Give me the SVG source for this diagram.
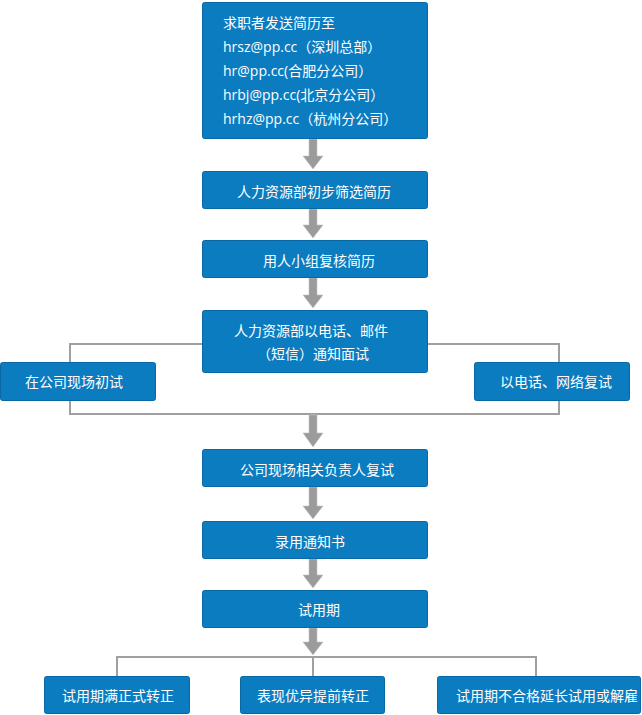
<svg xmlns="http://www.w3.org/2000/svg" width="642" height="715" viewBox="0 0 642 715">
<style>
.box{fill:#0b7cc0;stroke:#0967a3;stroke-width:1}
.t{fill:#ffffff;font-family:"Open Sans","Noto Sans CJK SC",sans-serif;font-size:14px}
.c{text-anchor:middle}
.ln{fill:none;stroke:#a0a0a0;stroke-width:2}
.ar{fill:#9b9b9b;stroke:#c4c4c4;stroke-width:0.6}
</style>
<rect width="642" height="715" fill="#ffffff"/>
<g id="connectors">
<path class="ln" d="M202,344 H70 V362"/>
<path class="ln" d="M427,344 H559 V362"/>
<path class="ln" d="M70,400 V414 H559 V400"/>
<path class="ln" d="M117,676 V657 H536 V676"/>
<path class="ln" d="M313,657 V676"/>
<path class="ar" d="M309,139 H317 V156 H323 L313,169 L303,156 H309 Z"/>
<path class="ar" d="M309,209 H317 V225 H323 L313,238 L303,225 H309 Z"/>
<path class="ar" d="M309,278 H317 V295 H323 L313,308 L303,295 H309 Z"/>
<path class="ar" d="M309,415 H317 V433 H323 L313,447 L303,433 H309 Z"/>
<path class="ar" d="M309,487 H317 V506 H323 L313,519 L303,506 H309 Z"/>
<path class="ar" d="M309,559 H317 V575 H323 L313,588 L303,575 H309 Z"/>
<path class="ar" d="M309,628 H317 V642 H323 L313,655 L303,642 H309 Z"/>
</g>
<g id="n1">
<rect class="box" x="202.5" y="2.5" width="225" height="136" rx="2"/>
<text class="t" x="223" y="28">求职者发送简历至</text>
<text class="t" x="223" y="52">hrsz@pp.cc（深圳总部）</text>
<text class="t" x="223" y="76">hr@pp.cc(合肥分公司）</text>
<text class="t" x="223" y="100">hrbj@pp.cc(北京分公司）</text>
<text class="t" x="223" y="124">hrhz@pp.cc（杭州分公司）</text>
</g>
<g id="n2">
<rect class="box" x="202.5" y="171.5" width="225" height="37" rx="2"/>
<text class="t c" x="314" y="197">人力资源部初步筛选简历</text>
</g>
<g id="n3">
<rect class="box" x="202.5" y="240.5" width="225" height="37" rx="2"/>
<text class="t c" x="319" y="266">用人小组复核简历</text>
</g>
<g id="n4">
<rect class="box" x="202.5" y="310.5" width="225" height="62" rx="2"/>
<text class="t c" x="311" y="336">人力资源部以电话、邮件</text>
<text class="t c" x="313" y="359">（短信）通知面试</text>
</g>
<g id="n5">
<rect class="box" x="0.5" y="362.5" width="155" height="38" rx="2"/>
<text class="t c" x="74" y="387">在公司现场初试</text>
</g>
<g id="n6">
<rect class="box" x="474.5" y="362.5" width="155" height="38" rx="2"/>
<text class="t c" x="556" y="387">以电话、网络复试</text>
</g>
<g id="n7">
<rect class="box" x="202.5" y="449.5" width="225" height="37" rx="2"/>
<text class="t c" x="317" y="475">公司现场相关负责人复试</text>
</g>
<g id="n8">
<rect class="box" x="202.5" y="521.5" width="225" height="37" rx="2"/>
<text class="t c" x="310" y="547">录用通知书</text>
</g>
<g id="n9">
<rect class="box" x="202.5" y="590.5" width="225" height="37" rx="2"/>
<text class="t c" x="319" y="615">试用期</text>
</g>
<g id="n10">
<rect class="box" x="44.5" y="676.5" width="145" height="37" rx="2"/>
<text class="t c" x="118" y="701">试用期满正式转正</text>
</g>
<g id="n11">
<rect class="box" x="240.5" y="676.5" width="144" height="37" rx="2"/>
<text class="t c" x="313" y="701">表现优异提前转正</text>
</g>
<g id="n12">
<rect class="box" x="437.5" y="676.5" width="203" height="37" rx="2"/>
<text class="t" x="456" y="701">试用期不合格延长试用或解雇</text>
</g>
</svg>
